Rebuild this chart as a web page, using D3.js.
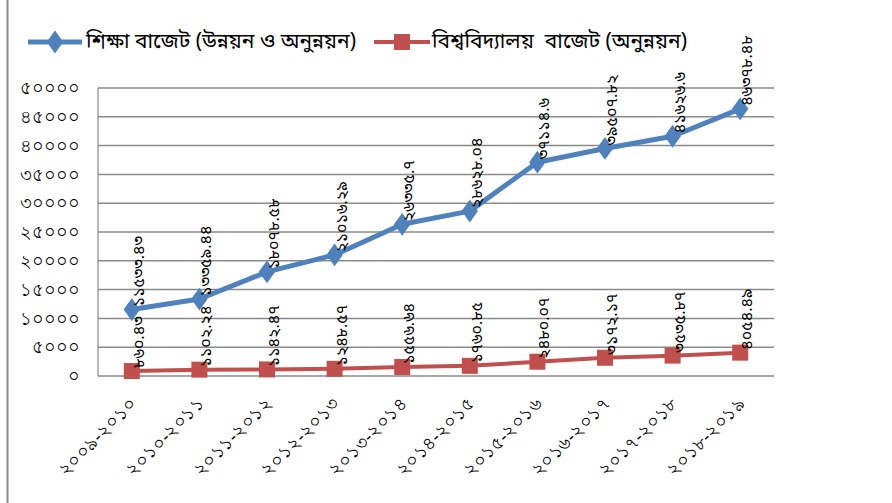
<!DOCTYPE html>
<html><head><meta charset="utf-8">
<script src="https://cdn.jsdelivr.net/npm/d3@7"></script>
<style>
html,body{margin:0;padding:0;background:#fff;}
svg{display:block;font-family:"Noto Sans Bengali","Lohit Bengali","Noto Sans","DejaVu Sans",sans-serif;}
</style></head>
<body>
<svg id="chart" width="892" height="503"></svg>
<script>
const categories = ["2009-2010","2010-2011","2011-2012","2012-2013","2013-2014","2014-2015","2015-2016","2016-2017","2017-2018","2018-2019"];
const educationBudget = [11533.43,13359.44,18078.58,21016.29,26335.7,28628.04,37114.6,39507.82,41626.6,46378.48];
const universityBudget = [860.43,1102.24,1142.47,1248.57,1556.64,1760.85,2480.07,3172.17,3535.87,4054.49];
const yTicks = [0,5000,10000,15000,20000,25000,30000,35000,40000,45000,50000];
const seriesNames = ["শিক্ষা বাজেট (উন্নয়ন ও অনুন্নয়ন)","বিশ্ববিদ্যালয়  বাজেট (অনুন্নয়ন)"];

const bn = s => String(s).replace(/[0-9]/g, d => "০১২৩৪৫৬৭৮৯"[+d]);

const svg = d3.select("#chart");
const pLeft = 98, pRight = 774, pTop = 88, pBottom = 376;

const x = d3.scaleBand().domain(categories).range([pLeft, pRight]);
const y = d3.scaleLinear().domain([0, 50000]).range([pBottom, pTop]);
const cx = c => x(c) + x.bandwidth() / 2;

// chart frame left edge
svg.append("line").attr("x1", 7.5).attr("x2", 7.5).attr("y1", 0).attr("y2", 503)
  .attr("stroke", "#8c8c8c").attr("stroke-width", 2);

// gridlines
svg.append("g").selectAll("line").data(yTicks).join("line")
  .attr("x1", pLeft).attr("x2", pRight)
  .attr("y1", d => y(d)).attr("y2", d => y(d))
  .attr("stroke", "#8a8a8a").attr("stroke-width", 1.5);
svg.append("line").attr("x1", pLeft).attr("x2", pLeft).attr("y1", pTop).attr("y2", pBottom)
  .attr("stroke", "#8a8a8a").attr("stroke-width", 1.2);

// y axis labels
const yAxis = d3.axisLeft(y).tickValues(yTicks).tickFormat(d => bn(d)).tickSize(0).tickPadding(0);
const ya = svg.append("g").attr("transform", `translate(${pLeft - 18},0)`).call(yAxis);
ya.select(".domain").remove();
ya.selectAll("text").attr("font-size", 18).attr("fill", "#000").attr("font-family", null);

// x axis labels
const xa = svg.append("g").attr("transform", `translate(0,${pBottom})`)
  .call(d3.axisBottom(x).tickSize(0).tickFormat(d => bn(d)));
xa.select(".domain").remove();
xa.selectAll("text").attr("font-size", 18).attr("fill", "#000").attr("font-family", null)
  .attr("text-anchor", "end").attr("dy", null).attr("y", 0)
  .attr("transform", "translate(6,29) rotate(-45)");

const line = d3.line().x((d, i) => cx(categories[i])).y(d => y(d));

// series 1
svg.append("path").datum(educationBudget).attr("d", line)
  .attr("fill", "none").attr("stroke", "#4F81BD").attr("stroke-width", 5).attr("stroke-linejoin", "round");
svg.append("g").selectAll("path").data(educationBudget).join("path")
  .attr("d", d3.symbol(d3.symbolDiamond, 150))
  .attr("transform", (d, i) => `translate(${cx(categories[i])},${y(d)}) scale(1.25,1)`)
  .attr("fill", "#4F81BD");

// series 2
svg.append("path").datum(universityBudget).attr("d", line)
  .attr("fill", "none").attr("stroke", "#C0504D").attr("stroke-width", 4);
svg.append("g").selectAll("rect").data(universityBudget).join("rect")
  .attr("x", (d, i) => cx(categories[i]) - 8).attr("y", d => y(d) - 8)
  .attr("width", 16).attr("height", 16).attr("fill", "#C0504D");

// data labels
function labels(data) {
  svg.append("g").selectAll("text").data(data).join("text")
    .attr("transform", (d, i) => `translate(${cx(categories[i]) + 8},${y(d) - 3}) rotate(-90)`)
    .attr("font-size", 16).attr("fill", "#000").attr("text-anchor", "start")
    .attr("dominant-baseline", "central")
    .text(d => bn(d));
}
labels(educationBudget);
labels(universityBudget);

// legend
const lg = svg.append("g");
lg.append("line").attr("x1", 28).attr("x2", 82).attr("y1", 42).attr("y2", 42)
  .attr("stroke", "#4F81BD").attr("stroke-width", 5);
lg.append("path").attr("d", d3.symbol(d3.symbolDiamond, 150))
  .attr("transform", "translate(55,42) scale(1.25,1)").attr("fill", "#4F81BD");
lg.append("text").attr("x", 86).attr("y", 43).attr("dominant-baseline", "central")
  .attr("font-size", 21).text(seriesNames[0]);
lg.append("line").attr("x1", 374).attr("x2", 430).attr("y1", 42).attr("y2", 42)
  .attr("stroke", "#C0504D").attr("stroke-width", 4);
lg.append("rect").attr("x", 394).attr("y", 34).attr("width", 16).attr("height", 16).attr("fill", "#C0504D");
lg.append("text").attr("x", 432).attr("y", 43).attr("dominant-baseline", "central")
  .attr("font-size", 21).style("white-space", "pre").text(seriesNames[1]);
</script>
</body></html>
